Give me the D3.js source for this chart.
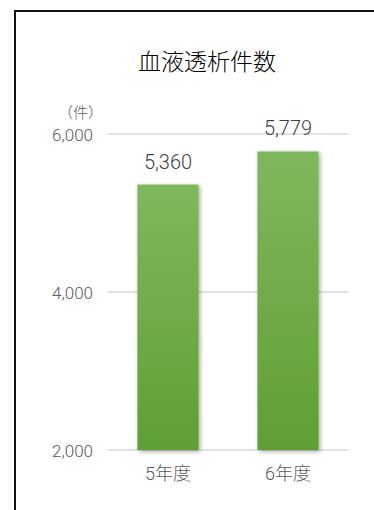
<!DOCTYPE html>
<html>
<head>
<meta charset="utf-8">
<script src="https://cdn.jsdelivr.net/npm/d3@7"></script>
<style>
  html, body { margin: 0; padding: 0; background: #fff; }
  svg { display: block; }
  text { font-family: Roboto, "Noto Sans CJK JP", sans-serif; }
</style>
</head>
<body>
<svg id="chart" width="374" height="510"></svg>
<script>
// Annual hemodialysis counts
const categories = ["5年度", "6年度"];
const values = [5360, 5779];
const tickValues = [2000, 4000, 6000];
const title = "血液透析件数";
const unitLabel = "（件）";

const svg = d3.select("#chart");
const W = 374, H = 510;
const plot = { left: 108, right: 348, top: 134, bottom: 450 };

// Panel frame: left and top edges
svg.append("path")
  .attr("d", `M15,${H} L15,11 L${W},11`)
  .attr("fill", "none")
  .attr("stroke", "#111")
  .attr("stroke-width", 2);

const defs = svg.append("defs");
const grad = defs.append("linearGradient")
  .attr("id", "barFill").attr("x1", 0).attr("y1", 0).attr("x2", 0).attr("y2", 1);
grad.append("stop").attr("offset", "0%").attr("stop-color", "#7fb85c");
grad.append("stop").attr("offset", "100%").attr("stop-color", "#5f9f33");

const shadow = defs.append("filter").attr("id", "barShadow")
  .attr("x", "-20%").attr("y", "-10%").attr("width", "140%").attr("height", "120%");
shadow.append("feDropShadow")
  .attr("dx", 1.5).attr("dy", 1.5).attr("stdDeviation", 2)
  .attr("flood-color", "#000").attr("flood-opacity", 0.35);

const x = d3.scaleBand()
  .domain(categories)
  .range([plot.left, plot.right])
  .paddingInner(0.49)
  .paddingOuter(0.245);

const y = d3.scaleLinear()
  .domain([2000, 6000])
  .range([plot.bottom, plot.top]);

// Gridlines
svg.append("g")
  .selectAll("line")
  .data(tickValues)
  .join("line")
  .attr("x1", plot.left).attr("x2", plot.right)
  .attr("y1", d => y(d)).attr("y2", d => y(d))
  .attr("stroke", "#d9d9d9")
  .attr("stroke-width", 1.5);

// Y axis labels
const yAxis = d3.axisLeft(y)
  .tickValues(tickValues)
  .tickFormat(d3.format(","))
  .tickSize(0)
  .tickPadding(0);
const yg = svg.append("g")
  .attr("transform", `translate(93,1)`)
  .call(yAxis);
yg.select(".domain").remove();
yg.selectAll("text")
  .attr("font-size", 17)
  .attr("font-weight", 300)
  .attr("fill", "#595959")
  .attr("font-family", "Roboto, 'Noto Sans CJK JP', sans-serif");

// Bars
svg.append("g")
  .selectAll("rect")
  .data(values)
  .join("rect")
  .attr("x", (d, i) => x(categories[i]))
  .attr("width", x.bandwidth())
  .attr("y", d => y(d))
  .attr("height", d => y(2000) - y(d))
  .attr("fill", "url(#barFill)")
  .attr("filter", "url(#barShadow)");

// Value labels
svg.append("g")
  .selectAll("text")
  .data(values)
  .join("text")
  .attr("x", (d, i) => x(categories[i]) + x.bandwidth() / 2)
  .attr("y", d => y(d) - 16)
  .attr("text-anchor", "middle")
  .attr("font-size", 20)
  .attr("font-weight", 300)
  .attr("fill", "#404040")
  .text(d3.format(","));

// X axis labels
const xAxis = d3.axisBottom(x).tickSize(0).tickPadding(0);
const xg = svg.append("g")
  .attr("transform", `translate(0,${plot.bottom + 17})`)
  .call(xAxis);
xg.select(".domain").remove();
xg.selectAll("text")
  .attr("font-size", 18)
  .attr("font-weight", 300)
  .attr("fill", "#595959")
  .attr("dy", "0.71em")
  .attr("font-family", "Roboto, 'Noto Sans CJK JP', sans-serif");

// Title
svg.append("text")
  .attr("x", 207)
  .attr("y", 70)
  .attr("text-anchor", "middle")
  .attr("font-size", 23)
  .attr("font-weight", 300)
  .attr("fill", "#000")
  .attr("font-family", "'Noto Sans CJK JP', sans-serif")
  .text(title);

// Unit label
svg.append("text")
  .attr("x", 103)
  .attr("y", 118)
  .attr("text-anchor", "end")
  .attr("font-size", 15)
  .attr("font-weight", 300)
  .attr("fill", "#595959")
  .attr("font-family", "'Noto Sans CJK JP', sans-serif")
  .text(unitLabel);
</script>
</body>
</html>
